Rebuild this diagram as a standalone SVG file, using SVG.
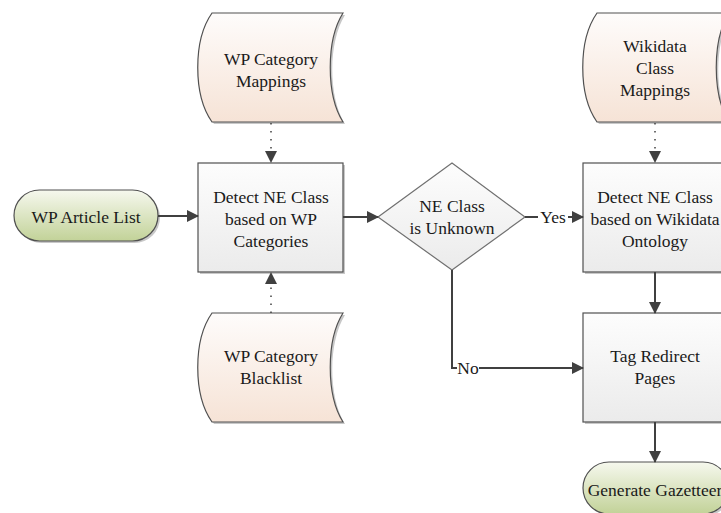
<svg xmlns="http://www.w3.org/2000/svg" width="721" height="513" viewBox="0 0 721 513">
<defs>
<linearGradient id="gPeach" x1="0" y1="0" x2="0" y2="1"><stop offset="0" stop-color="#fefcfb"/><stop offset="1" stop-color="#f6e3d6"/></linearGradient>
<linearGradient id="gBox" x1="0" y1="0" x2="0" y2="1"><stop offset="0" stop-color="#fdfdfd"/><stop offset="1" stop-color="#ebebeb"/></linearGradient>
<linearGradient id="gGreen" x1="0" y1="0" x2="0" y2="1"><stop offset="0" stop-color="#f6f8ee"/><stop offset="1" stop-color="#c2d298"/></linearGradient>
<marker id="arr" viewBox="0 0 12 12" refX="11" refY="6" markerWidth="12" markerHeight="12" markerUnits="userSpaceOnUse" orient="auto"><path d="M0,0 L12,6 L0,12 Z" fill="#404040"/></marker>
<style>
.sh{fill:#c8c8c8;stroke:none}
.shape{stroke:#505050;stroke-width:1.2}
.doc{fill:url(#gPeach)}
.box{fill:url(#gBox)}
.pill{fill:url(#gGreen)}
.dia{fill:url(#gBox);stroke:#707070;stroke-width:1.2}
.t{font-family:"Liberation Serif","Times New Roman",serif;font-size:17.5px;fill:#1a1a1a;text-anchor:middle}
.c{fill:none;stroke:#404040;stroke-width:2}
.d{fill:none;stroke:#404040;stroke-width:1.5;stroke-dasharray:1.5 6.5}
</style>
</defs>

<g id="wp-category-mappings">
<path class="sh" d="M214,15 L345,15 C328,42 328,97 345,124 L214,124 C195,97 195,42 214,15 Z"/>
<path class="shape doc" d="M212,13 L343,13 C326,40 326,95 343,122 L212,122 C193,95 193,40 212,13 Z"/>
<text class="t" x="271" y="65">WP Category</text>
<text class="t" x="271" y="87">Mappings</text>
</g>

<g id="wp-category-blacklist">
<path class="sh" d="M214,315 L345,315 C328,342 328,397 345,424 L214,424 C195,397 195,342 214,315 Z"/>
<path class="shape doc" d="M212,313 L343,313 C326,340 326,395 343,422 L212,422 C193,395 193,340 212,313 Z"/>
<text class="t" x="271" y="362">WP Category</text>
<text class="t" x="271" y="384">Blacklist</text>
</g>

<g id="wikidata-class-mappings">
<path class="sh" d="M599,15 L731,15 C714,42 714,97 731,124 L599,124 C580,97 580,42 599,15 Z"/>
<path class="shape doc" d="M597,13 L729,13 C712,40 712,95 729,122 L597,122 C578,95 578,40 597,13 Z"/>
<text class="t" x="655" y="52">Wikidata</text>
<text class="t" x="655" y="74">Class</text>
<text class="t" x="655" y="96">Mappings</text>
</g>

<g id="wp-article-list">
<rect class="sh" x="16" y="192" width="144" height="51" rx="25.5"/>
<rect class="shape pill" x="14" y="190" width="144" height="51" rx="25.5"/>
<text class="t" x="86" y="223">WP Article List</text>
</g>

<g id="detect-wp">
<rect class="sh" x="200" y="165" width="145" height="109"/>
<rect class="shape box" x="198" y="163" width="145" height="109"/>
<text class="t" x="271" y="203">Detect NE Class</text>
<text class="t" x="271" y="225">based on WP</text>
<text class="t" x="271" y="247">Categories</text>
</g>

<g id="ne-class-unknown">
<polygon class="dia" points="378,217 452,163 525,217 452,270"/>
<text class="t" x="452" y="212">NE Class</text>
<text class="t" x="452" y="234">is Unknown</text>
</g>

<g id="detect-wikidata">
<rect class="sh" x="585" y="165" width="145" height="109"/>
<rect class="shape box" x="583" y="163" width="145" height="109"/>
<text class="t" x="655" y="203">Detect NE Class</text>
<text class="t" x="655" y="225">based on Wikidata</text>
<text class="t" x="655" y="247">Ontology</text>
</g>

<g id="tag-redirect">
<rect class="sh" x="585" y="315" width="145" height="109"/>
<rect class="shape box" x="583" y="313" width="145" height="109"/>
<text class="t" x="655" y="362">Tag Redirect</text>
<text class="t" x="655" y="384">Pages</text>
</g>

<g id="generate-gazetteer">
<rect class="sh" x="585" y="464" width="146" height="52" rx="26"/>
<rect class="shape pill" x="583" y="462" width="146" height="52" rx="26"/>
<text class="t" x="655" y="496">Generate Gazetteer</text>
</g>

<g id="connectors">
<path class="c" d="M158,216 L198,216" marker-end="url(#arr)"/>
<path class="c" d="M343,217 L378,217" marker-end="url(#arr)"/>
<path class="c" d="M525,217 L538,217"/>
<text class="t" x="553" y="223">Yes</text>
<path class="c" d="M568,217 L583,217" marker-end="url(#arr)"/>
<path class="c" d="M452,270 L452,368 L457,368"/>
<text class="t" x="468" y="374">No</text>
<path class="c" d="M479,368 L583,368" marker-end="url(#arr)"/>
<path class="c" d="M655,272 L655,313" marker-end="url(#arr)"/>
<path class="c" d="M655,422 L655,462" marker-end="url(#arr)"/>
<path class="d" d="M271,123 L271,152"/>
<path d="M265,151 L277,151 L271,163 Z" fill="#404040"/>
<path class="d" d="M271,313 L271,284"/>
<path d="M265,284 L277,284 L271,272 Z" fill="#404040"/>
<path class="d" d="M655,123 L655,152"/>
<path d="M649,151 L661,151 L655,163 Z" fill="#404040"/>
</g>
</svg>
